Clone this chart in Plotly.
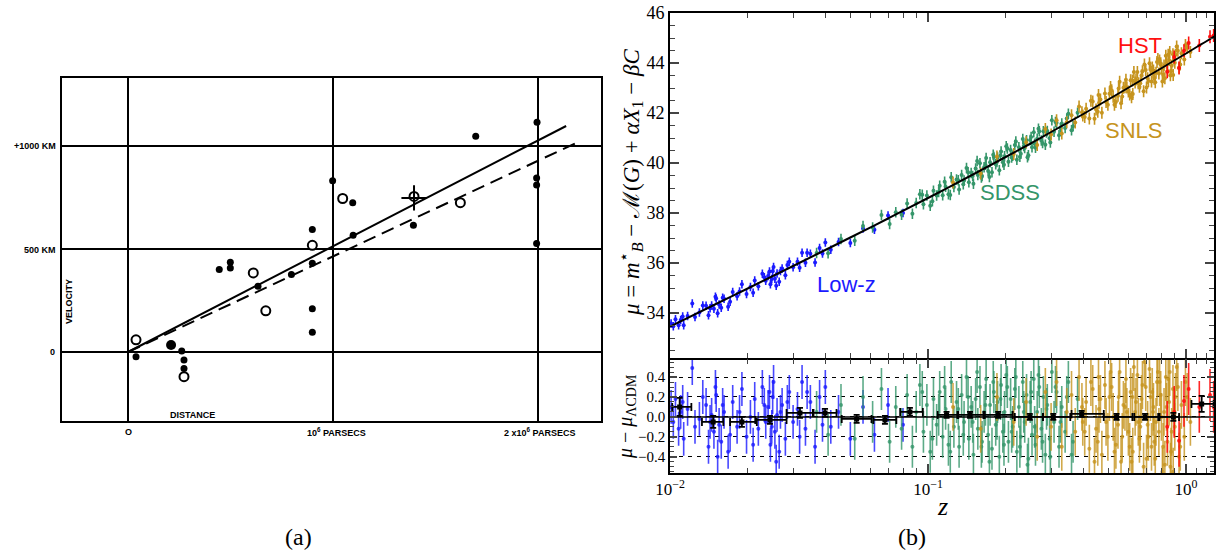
import numpy as np
import plotly.graph_objects as go

W, H = 1216, 554

# ---------------- Panel (a): Hubble 1929 ----------------
HUB_FILLED_X = [0.998, 1.096, 0.899, 1.098, 0.899, 1.995, 1.696, 1.993, 1.993, 1.993, 1.392,
                0.445, 0.499, 0.499, 0.634, 0.797, 0.899, 0.899, 0.039, 0.262, 0.273, 0.273]
HUB_FILLED_Y = [831, 725, 595, 567, 431, 1115, 1047, 844, 810, 527, 615,
                400, 436, 408, 319, 376, 210, 96, -23, 5, -39, -80]
HUB_BIG_X = [0.210]
HUB_BIG_Y = [34]
HUB_OPEN_X = [1.047, 0.899, 1.395, 1.621, 0.611, 0.672, 0.039, 0.273]
HUB_OPEN_Y = [745, 518, 755, 725, 384, 200, 59, -120]
HUB_CROSS_X = [1.395]
HUB_CROSS_Y = [748]
FIT_SOLID_X = [0.0, 2.137]
FIT_SOLID_Y = [0, 1097]
FIT_DASH_X = [0.0, 2.195]
FIT_DASH_Y = [0, 1019]

# ---------------- Panel (b): JLA Hubble diagram ----------------
CURVE_Z = [0.01, 0.015, 0.02, 0.03, 0.05, 0.07, 0.1, 0.15, 0.2, 0.25, 0.3, 0.4, 0.5, 0.6,
           0.7, 0.8, 0.9, 1.0, 1.1, 1.2, 1.3]
CURVE_MU = [33.46, 34.35, 34.98, 35.88, 37.02, 37.78, 38.60, 39.55, 40.24, 40.78, 41.24, 41.96,
            42.54, 43.02, 43.43, 43.78, 44.10, 44.38, 44.64, 44.87, 45.09]

LOWZ_Z = [0.0101, 0.0103, 0.0105, 0.0108, 0.0110, 0.0113, 0.0117, 0.0122, 0.0130, 0.0138,
          0.0141, 0.0145, 0.0148, 0.0151, 0.0155, 0.0158, 0.0162, 0.0168, 0.0175, 0.0182,
          0.0190, 0.0198, 0.0205, 0.0213, 0.0220, 0.0228, 0.0235, 0.0240, 0.0245, 0.0250,
          0.0255, 0.0260, 0.0265, 0.0272, 0.0280, 0.0290, 0.0300, 0.0312, 0.0325, 0.0335,
          0.0350, 0.0365, 0.0380, 0.0400, 0.0420, 0.0450, 0.0500, 0.0560, 0.0620, 0.0700, 0.0800,
          0.0112, 0.0125, 0.0134, 0.0143, 0.0150, 0.0153, 0.0160, 0.0171, 0.0186, 0.0210,
          0.0232, 0.0243, 0.0248, 0.0252, 0.0258, 0.0268, 0.0285, 0.0318, 0.0340, 0.0390]
LOWZ_MU = [33.58, 33.47, 33.75, 33.51, 33.72, 33.51, 33.88, 34.38, 34.02, 34.29,
           33.91, 34.30, 34.17, 34.58, 34.34, 34.21, 34.57, 34.25, 34.84, 34.67,
           35.15, 34.76, 35.04, 35.30, 35.07, 35.57, 35.29, 35.48, 35.15, 35.67,
           35.37, 35.58, 35.25, 35.78, 35.51, 36.05, 35.83, 36.05, 36.41, 36.01,
           36.37, 36.02, 36.60, 36.82, 36.53, 36.84, 36.80, 37.38, 37.33, 37.90, 38.00,
           33.86, 33.84, 34.30, 34.19, 34.65, 33.99, 34.61, 34.45, 34.86, 34.81,
           35.43, 35.66, 35.36, 35.84, 35.09, 35.68, 35.92, 35.81, 36.41, 36.38]
LOWZ_RES = [0.10, -0.05, 0.18, -0.12, 0.05, -0.22, 0.08, 0.49, -0.02, 0.12,
            -0.30, 0.02, -0.15, 0.22, -0.08, -0.25, 0.05, -0.35, 0.15, -0.10,
            0.28, -0.20, 0.00, 0.18, -0.12, 0.30, -0.05, 0.10, -0.28, 0.20,
            -0.15, 0.02, -0.35, 0.12, -0.22, 0.25, -0.05, 0.08, 0.35, -0.12,
            0.15, -0.30, 0.20, 0.30, -0.10, 0.05, -0.22, 0.10, -0.18, 0.12, -0.08,
            0.15, -0.10, 0.20, -0.05, 0.30, -0.40, 0.12, -0.18, 0.05, -0.28,
            0.12, 0.25, -0.10, 0.35, -0.45, 0.05, 0.15, -0.20, 0.25, -0.08]

SDSS_Z = [0.037, 0.041, 0.046, 0.052, 0.056, 0.061, 0.066, 0.071, 0.075, 0.079, 0.083, 0.087,
          0.090, 0.093, 0.096, 0.099, 0.102, 0.105, 0.108, 0.111, 0.114, 0.117, 0.120, 0.123,
          0.126, 0.129, 0.132, 0.135, 0.138, 0.141, 0.144, 0.147, 0.150, 0.153, 0.156, 0.159,
          0.162, 0.165, 0.168, 0.171, 0.174, 0.177, 0.180, 0.183, 0.186, 0.189, 0.192, 0.195,
          0.198, 0.201, 0.205, 0.209, 0.213, 0.217, 0.221, 0.225, 0.229, 0.233, 0.237, 0.241,
          0.245, 0.249, 0.253, 0.257, 0.261, 0.265, 0.270, 0.275, 0.280, 0.285, 0.290, 0.296,
          0.302, 0.308, 0.315, 0.322, 0.330, 0.340, 0.350, 0.365, 0.380,
          0.095, 0.104, 0.110, 0.116, 0.122, 0.131, 0.137, 0.143, 0.149, 0.155, 0.161, 0.167,
          0.173, 0.179, 0.185, 0.191, 0.197, 0.203, 0.211, 0.219, 0.227, 0.235, 0.243, 0.251,
          0.259, 0.268, 0.278, 0.288, 0.298, 0.312, 0.326, 0.345, 0.360]
SDSS_MU = [36.40, 36.39, 36.96, 36.89, 37.48, 37.42, 37.92, 37.56, 38.03, 37.93, 38.38, 37.97,
           38.40, 38.75, 38.35, 38.70, 38.29, 38.89, 38.70, 39.09, 38.71, 39.05, 38.75, 39.43,
           39.04, 39.34, 38.94, 39.52, 39.30, 39.80, 39.23, 39.60, 39.17, 39.78, 39.52, 39.99,
           39.48, 39.83, 40.20, 39.68, 40.03, 39.63, 40.24, 39.95, 40.22, 39.71, 40.46, 40.03,
           40.27, 40.67, 40.05, 40.52, 40.29, 40.72, 40.13, 40.63, 40.37, 40.96, 40.60, 40.91,
           40.31, 40.92, 40.63, 41.23, 40.61, 40.97, 41.27, 40.90, 41.27, 40.73, 41.28, 40.99,
           41.71, 41.25, 41.61, 41.11, 41.58, 41.40, 41.97, 41.47, 42.01,
           38.73, 38.47, 38.84, 39.25, 38.72, 39.31, 39.15, 39.63, 39.48, 40.08, 39.42, 39.93,
           39.44, 40.33, 40.04, 40.31, 39.93, 40.58, 40.22, 40.86, 40.25, 40.68, 40.23, 41.04,
           40.77, 41.37, 40.80, 41.22, 40.82, 41.64, 41.40, 41.78, 41.31]
SDSS_RES = [0.05, -0.18, 0.12, -0.22, 0.20, -0.05, 0.28, -0.25, 0.10, -0.12, 0.22, -0.30,
            0.05, 0.32, -0.15, 0.12, -0.35, 0.18, -0.08, 0.25, -0.20, 0.08, -0.28, 0.35,
            -0.10, 0.15, -0.30, 0.22, -0.05, 0.40, -0.22, 0.10, -0.38, 0.18, -0.12, 0.30,
            -0.25, 0.05, 0.38, -0.18, 0.12, -0.32, 0.25, -0.08, 0.15, -0.40, 0.32, -0.15,
            0.05, 0.42, -0.25, 0.18, -0.10, 0.28, -0.35, 0.10, -0.20, 0.35, -0.05, 0.22,
            -0.42, 0.15, -0.18, 0.38, -0.28, 0.05, 0.30, -0.12, 0.20, -0.38, 0.12, -0.22,
            0.45, -0.05, 0.25, -0.30, 0.10, -0.15, 0.35, -0.25, 0.18,
            0.25, -0.22, 0.02, 0.30, -0.35, 0.08, -0.18, 0.20, -0.05, 0.45, -0.30, 0.12,
            -0.45, 0.35, -0.02, 0.18, -0.28, 0.30, -0.15, 0.40, -0.30, 0.05, -0.48, 0.25,
            -0.10, 0.42, -0.25, 0.08, -0.40, 0.30, -0.05, 0.20, -0.38]

SNLS_Z = [0.125, 0.160, 0.185, 0.215, 0.240, 0.265, 0.285, 0.300, 0.315, 0.330, 0.345, 0.360,
          0.372, 0.385, 0.398, 0.410, 0.422, 0.435, 0.448, 0.460, 0.472, 0.485, 0.498, 0.510,
          0.522, 0.535, 0.548, 0.560, 0.572, 0.585, 0.598, 0.610, 0.622, 0.635, 0.648, 0.660,
          0.672, 0.685, 0.698, 0.710, 0.722, 0.735, 0.748, 0.760, 0.772, 0.785, 0.798, 0.810,
          0.822, 0.835, 0.848, 0.860, 0.875, 0.890, 0.905, 0.920, 0.940, 0.960, 0.985, 1.010,
          1.040, 0.395, 0.455, 0.505, 0.545, 0.590, 0.615, 0.640, 0.665, 0.690, 0.715, 0.740,
          0.765, 0.790, 0.815, 0.840, 0.870, 0.900, 0.930,
          0.405, 0.428, 0.442, 0.466, 0.490, 0.515, 0.528, 0.553, 0.566, 0.580, 0.605, 0.628,
          0.653, 0.678, 0.703, 0.728, 0.753, 0.778, 0.803, 0.828, 0.853, 0.880, 0.910, 0.950,
          0.995, 0.458, 0.620, 0.745, 0.865, 0.892]
SNLS_MU = [39.22, 39.58, 40.26, 40.36, 40.83, 40.72, 41.36, 41.14, 41.71, 41.18, 41.63, 41.91,
           41.62, 42.26, 41.90, 42.17, 41.78, 42.46, 42.14, 42.41, 42.01, 42.78, 42.33, 43.04,
           42.65, 42.44, 42.98, 42.39, 43.01, 43.33, 42.86, 43.31, 42.76, 43.22, 43.64, 43.05,
           43.50, 42.87, 43.72, 43.39, 43.99, 43.26, 43.70, 43.23, 44.04, 43.58, 43.99, 43.26,
           43.90, 44.29, 43.68, 44.12, 43.67, 44.35, 44.01, 44.66, 43.81, 44.39, 44.14, 44.61,
           44.44, 42.03, 42.05, 42.77, 42.69, 43.02, 42.63, 43.34, 43.19, 43.94, 43.28, 43.82,
           43.61, 44.10, 43.53, 44.01, 43.51, 44.15, 44.49,
           41.84, 42.49, 41.77, 42.54, 42.44, 42.91, 42.33, 43.25, 42.66, 43.03, 42.74, 43.64,
           43.19, 43.67, 43.02, 43.73, 43.37, 44.16, 43.79, 43.39, 44.33, 43.89, 44.33, 43.94,
           44.72, 42.72, 43.30, 43.64, 44.44, 43.52]
SNLS_RES = [0.10, -0.12, 0.20, -0.05, 0.15, -0.20, 0.25, -0.10, 0.35, -0.30, 0.05, 0.22,
            -0.15, 0.40, -0.05, 0.15, -0.32, 0.28, -0.12, 0.08, -0.38, 0.32, -0.20, 0.45,
            0.00, -0.28, 0.20, -0.45, 0.12, 0.38, -0.15, 0.25, -0.35, 0.05, 0.42, -0.22,
            0.18, -0.50, 0.30, -0.08, 0.48, -0.30, 0.10, -0.42, 0.35, -0.15, 0.22, -0.55,
            0.05, 0.40, -0.25, 0.15, -0.35, 0.28, -0.10, 0.50, -0.40, 0.12, -0.20, 0.20,
            -0.05, 0.10, -0.25, 0.20, -0.08, 0.05, -0.45, 0.15, -0.10, 0.55, -0.20, 0.25,
            -0.05, 0.35, -0.30, 0.10, -0.50, 0.05, 0.30,
            -0.15, 0.35, -0.45, 0.18, -0.05, 0.30, -0.35, 0.45, -0.20, 0.10, -0.30, 0.50,
            -0.05, 0.32, -0.42, 0.20, -0.25, 0.45, 0.00, -0.48, 0.38, -0.15, 0.20, -0.30,
            0.35, 0.40, 0.20, 0.05, 0.45, -0.55]

HST_Z = [0.846, 0.900, 0.940, 0.982, 1.024, 1.126, 1.239, 1.280]
HST_MU = [43.65, 44.24, 43.80, 44.49, 44.80, 44.70, 45.05, 45.10]
HST_RES = [-0.10, 0.05, -0.24, 0.16, 0.28, 0.10, 0.22, 0.10]

ERR_LOWZ, ERR_SDSS, ERR_SNLS, ERR_HST = 0.17, 0.21, 0.24, 0.26

BIN_Z = [0.0109, 0.0147, 0.0190, 0.0244, 0.0319, 0.0399, 0.0529, 0.0681, 0.0851, 0.118,
         0.1455, 0.187, 0.248, 0.306, 0.394, 0.538, 0.694, 0.893, 1.15]
BIN_RES = [0.10, -0.05, -0.05, -0.03, 0.04, 0.04, -0.02, -0.03, 0.05, 0.02,
           0.02, 0.02, 0.00, 0.00, 0.03, 0.00, 0.00, 0.00, 0.13]
BIN_LO = [0.0102, 0.0133, 0.0171, 0.0214, 0.0283, 0.0358, 0.0463, 0.0614, 0.078, 0.109,
          0.131, 0.166, 0.217, 0.279, 0.360, 0.480, 0.630, 0.790, 1.05]
BIN_HI = [0.0121, 0.0161, 0.0217, 0.0283, 0.0360, 0.0442, 0.0604, 0.0754, 0.0955, 0.130,
          0.164, 0.213, 0.279, 0.356, 0.480, 0.620, 0.780, 0.940, 1.28]
BIN_ERR = [0.09, 0.06, 0.05, 0.04, 0.05, 0.04, 0.04, 0.04, 0.04, 0.03,
           0.03, 0.03, 0.03, 0.03, 0.03, 0.03, 0.03, 0.04, 0.08]

REF_LINE_Z = [0.0095, 1.35]
REF_LINE_RES = [0.0, 0.0]

COL = {"lowz": "#1a1aff", "sdss": "#35966a", "snls": "#c6941e", "hst": "#ff1010"}
COL_RES = {"lowz": "rgba(26,26,255,0.8)", "sdss": "rgba(53,150,106,0.8)",
           "snls": "rgba(198,148,30,0.8)", "hst": "rgba(255,16,16,0.9)"}


def px(x):
    return x / W


def py(y):
    return 1 - y / H


fig = go.Figure()

# ---- panel (a) traces ----
fig.add_trace(go.Scatter(x=FIT_SOLID_X, y=FIT_SOLID_Y, mode="lines",
                         line=dict(color="black", width=2), xaxis="x", yaxis="y"))
fig.add_trace(go.Scatter(x=FIT_DASH_X, y=FIT_DASH_Y, mode="lines",
                         line=dict(color="black", width=2, dash="13px,7px"), xaxis="x", yaxis="y"))
fig.add_trace(go.Scatter(x=HUB_FILLED_X, y=HUB_FILLED_Y, mode="markers",
                         marker=dict(color="black", size=7), xaxis="x", yaxis="y"))
fig.add_trace(go.Scatter(x=HUB_BIG_X, y=HUB_BIG_Y, mode="markers",
                         marker=dict(color="black", size=10), xaxis="x", yaxis="y"))
fig.add_trace(go.Scatter(x=HUB_OPEN_X, y=HUB_OPEN_Y, mode="markers",
                         marker=dict(color="white", size=9, line=dict(color="black", width=2)),
                         xaxis="x", yaxis="y"))
fig.add_trace(go.Scatter(x=HUB_CROSS_X, y=HUB_CROSS_Y, mode="markers",
                         marker=dict(symbol="cross-thin", size=18, line=dict(color="black", width=2)),
                         xaxis="x", yaxis="y"))

# ---- panel (b) traces ----
surveys = [("lowz", LOWZ_Z, LOWZ_MU, LOWZ_RES, ERR_LOWZ),
           ("sdss", SDSS_Z, SDSS_MU, SDSS_RES, ERR_SDSS),
           ("snls", SNLS_Z, SNLS_MU, SNLS_RES, ERR_SNLS),
           ("hst", HST_Z, HST_MU, HST_RES, ERR_HST)]

for key, z, mu, res, err in surveys:
    fig.add_trace(go.Scatter(
        x=z, y=mu, mode="markers", xaxis="x2", yaxis="y2",
        marker=dict(color=COL[key], size=4),
        error_y=dict(type="constant", value=err, color=COL[key], thickness=1.6, width=0)))
for key, z, mu, res, err in surveys:
    fig.add_trace(go.Scatter(
        x=z, y=res, mode="markers", xaxis="x3", yaxis="y3",
        marker=dict(color=COL_RES[key], size=4),
        error_y=dict(type="constant", value=err, color=COL_RES[key], thickness=1.6, width=0)))

fig.add_trace(go.Scatter(x=CURVE_Z, y=CURVE_MU, mode="lines", xaxis="x2", yaxis="y2",
                         line=dict(color="black", width=2, shape="spline")))
fig.add_trace(go.Scatter(x=REF_LINE_Z, y=REF_LINE_RES, mode="lines", xaxis="x3", yaxis="y3",
                         line=dict(color="black", width=1.5)))

bz = np.array(BIN_Z)
fig.add_trace(go.Scatter(
    x=BIN_Z, y=BIN_RES, mode="markers", xaxis="x3", yaxis="y3",
    marker=dict(color="black", size=5, symbol="square"),
    error_x=dict(type="data", symmetric=False, array=list(np.array(BIN_HI) - bz),
                 arrayminus=list(bz - np.array(BIN_LO)), color="black", thickness=1.8, width=4),
    error_y=dict(type="data", array=BIN_ERR, color="black", thickness=1.8, width=3)))

MINOR_LOG = [0.02, 0.03, 0.04, 0.05, 0.06, 0.07, 0.08, 0.09,
             0.2, 0.3, 0.4, 0.5, 0.6, 0.7, 0.8, 0.9, 1.1, 1.2]

frame = dict(showline=True, linecolor="black", linewidth=2, mirror=True, zeroline=False,
             automargin=False)

fig.update_layout(
    width=W, height=H, margin=dict(l=0, r=0, t=0, b=0, pad=0, autoexpand=False),
    paper_bgcolor="white", plot_bgcolor="white", showlegend=False,
    font=dict(family="Liberation Serif", color="black"),
    xaxis=dict(domain=[px(62), px(601)], range=[-0.322, 2.307], anchor="y",
               tickvals=[0, 1, 2], showticklabels=False, ticks="",
               showgrid=True, gridcolor="black", gridwidth=1.6, **frame),
    yaxis=dict(domain=[py(421), py(78)], range=[-335, 1330], anchor="x",
               tickvals=[0, 500, 1000], showticklabels=False, ticks="",
               showgrid=True, gridcolor="black", gridwidth=1.6, **frame),
    xaxis2=dict(type="log", domain=[px(670), px(1214)], range=[-2, 0.1085], anchor="y2",
                tickvals=[0.01, 0.1, 1], showticklabels=False, ticks="inside", ticklen=9,
                tickwidth=1.5, showgrid=False, automargin=False,
                minor=dict(tickvals=MINOR_LOG, ticks="inside", ticklen=5, tickwidth=1.2, showgrid=False),
                showline=True, linecolor="black", linewidth=1.6, mirror="ticks", zeroline=False),
    yaxis2=dict(domain=[py(358), py(13)], range=[32.2, 46], anchor="x2",
                tickvals=[34, 36, 38, 40, 42, 44, 46], ticks="inside", ticklen=9, tickwidth=1.5,
                tickfont=dict(size=18, family="Liberation Serif"), showgrid=False, automargin=False,
                minor=dict(dtick=0.5, ticks="inside", ticklen=5, tickwidth=1.2, showgrid=False),
                showline=True, linecolor="black", linewidth=1.6, mirror="ticks", zeroline=False),
    xaxis3=dict(type="log", domain=[px(670), px(1214)], range=[-2, 0.1085], anchor="y3",
                tickvals=[0.01, 0.1, 1],
                ticktext=["10<sup>−2</sup>", "10<sup>−1</sup>", "10<sup>0</sup>"],
                tickfont=dict(size=17, family="Liberation Serif"), automargin=False,
                ticks="inside", ticklen=9, tickwidth=1.5, showgrid=False,
                minor=dict(tickvals=MINOR_LOG, ticks="inside", ticklen=5, tickwidth=1.2, showgrid=False),
                showline=True, linecolor="black", linewidth=1.6, mirror="ticks", zeroline=False),
    yaxis3=dict(domain=[py(473), py(359.6)], range=[-0.563, 0.575], anchor="x3",
                tickvals=[-0.4, -0.2, 0.0, 0.2, 0.4],
                ticktext=["−0.4", "−0.2", "0.0", "0.2", "0.4"],
                tickfont=dict(size=15, family="Liberation Serif"), automargin=False,
                ticks="inside", ticklen=7, tickwidth=1.5,
                showgrid=True, gridcolor="black", gridwidth=1.2, griddash="4px,5px",
                minor=dict(dtick=0.05, ticks="inside", ticklen=4, tickwidth=1, showgrid=False),
                showline=True, linecolor="black", linewidth=1.6, mirror="ticks", zeroline=False),
)

ann = []
small = dict(family="Liberation Sans", size=9, color="black")
ann.append(dict(x=px(58), y=py(146), text="<b>+1000 KM</b>", xanchor="right", font=small))
ann.append(dict(x=px(58), y=py(250), text="<b>500 KM</b>", xanchor="right", font=small))
ann.append(dict(x=px(52), y=py(352), text="<b>0</b>", font=small))
ann.append(dict(x=px(69), y=py(302), text="<b>VELOCITY</b>", textangle=-90, font=small))
ann.append(dict(x=px(193), y=py(415), text="<b>DISTANCE</b>", font=small))
ann.append(dict(x=px(128), y=py(432), text="<b>O</b>", font=small))
ann.append(dict(x=px(336), y=py(432), text="<b>10<sup>6</sup> PARSECS</b>", font=small))
ann.append(dict(x=px(539), y=py(432), text="<b>2 x10<sup>6</sup> PARSECS</b>", font=small))

lab = dict(family="Liberation Sans", size=22)
ann.append(dict(x=px(1140), y=py(45), text="HST", font=dict(color=COL["hst"], **lab)))
ann.append(dict(x=px(1133), y=py(130), text="SNLS", font=dict(color=COL["snls"], **lab)))
ann.append(dict(x=px(1010), y=py(192), text="SDSS", font=dict(color=COL["sdss"], **lab)))
ann.append(dict(x=px(846), y=py(284), text="Low-z", font=dict(color=COL["lowz"], **lab)))

ann.append(dict(x=px(630), y=py(182),
                text="<i>μ</i> = <i>m</i><sup>⋆</sup><sub><i>B</i></sub> − ℳ(<i>G</i>) + <i>αX</i><sub>1</sub> − <i>βC</i>",
                textangle=-90, font=dict(family="Liberation Serif", size=23)))
ann.append(dict(x=px(626), y=py(417), text="<i>μ</i> − <i>μ</i><sub>ΛCDM</sub>",
                textangle=-90, font=dict(family="Liberation Serif", size=20)))
ann.append(dict(x=px(943), y=py(506), text="<i>z</i>", font=dict(family="Liberation Serif", size=26)))
ann.append(dict(x=px(298), y=py(537), text="(a)", font=dict(family="Liberation Serif", size=24)))
ann.append(dict(x=px(912), y=py(537), text="(b)", font=dict(family="Liberation Serif", size=24)))

for a in ann:
    a.setdefault("xanchor", "center")
    a.setdefault("yanchor", "middle")
    a.update(xref="paper", yref="paper", showarrow=False)
fig.update_layout(annotations=ann)

fig.write_html("out.html")
